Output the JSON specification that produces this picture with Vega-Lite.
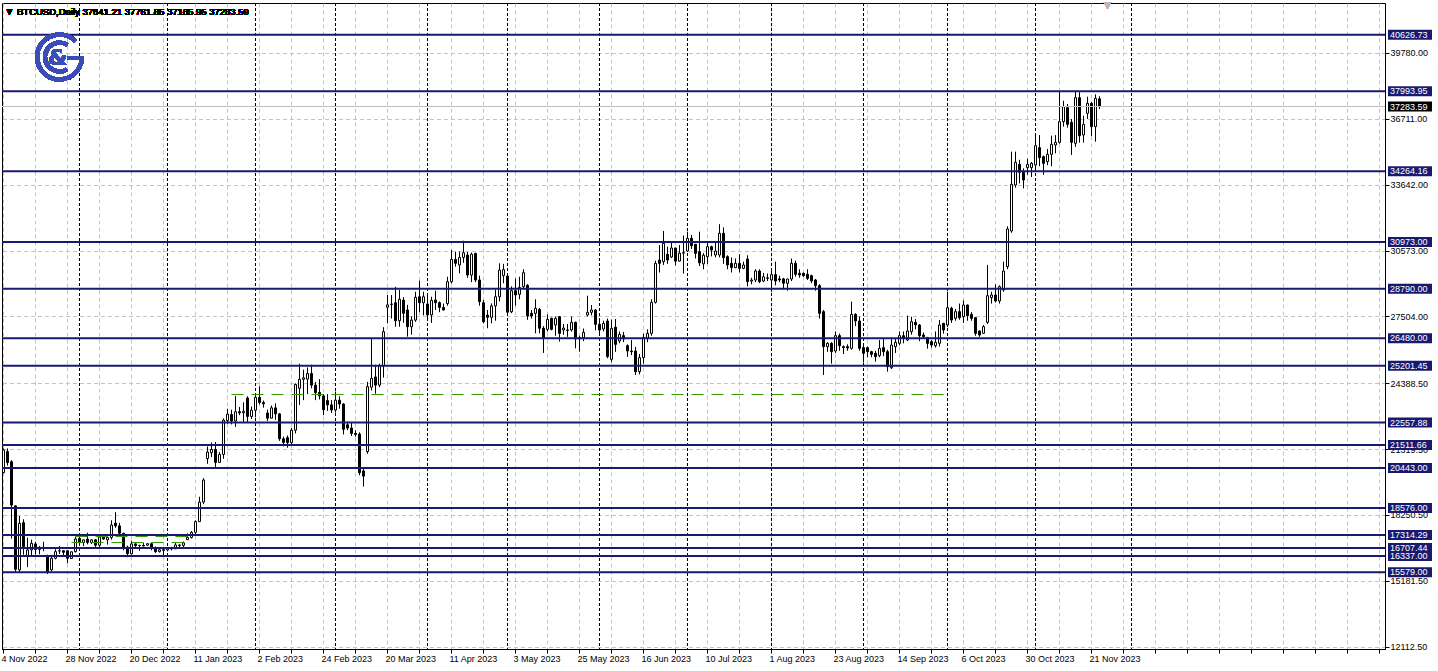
{
"$schema":"https://vega.github.io/schema/vega-lite/v6.json",
"width":1383,"height":646,
"autosize":{"type":"none"},
"padding":{"left":2,"top":3,"right":53,"bottom":22},
"background":"white",
"config":{"view":{"stroke":"black","strokeWidth":1},"font":"Liberation Sans"},
"data":{"values":[
{"d":"2022-11-04","o":20220,"h":21350,"l":20190,"c":21280},
{"d":"2022-11-07","o":21200,"h":21350,"l":20550,"c":20690},
{"d":"2022-11-08","o":20730,"h":20800,"l":17150,"c":18710},
{"d":"2022-11-09","o":18670,"h":18700,"l":15600,"c":15720},
{"d":"2022-11-10","o":15690,"h":18200,"l":15600,"c":17860},
{"d":"2022-11-11","o":17890,"h":18050,"l":16400,"c":16770},
{"d":"2022-11-14","o":16330,"h":17190,"l":15820,"c":16620},
{"d":"2022-11-15","o":16620,"h":17100,"l":16300,"c":16930},
{"d":"2022-11-16","o":16900,"h":17000,"l":16400,"c":16640},
{"d":"2022-11-17","o":16640,"h":16800,"l":16420,"c":16740},
{"d":"2022-11-18","o":16740,"h":17000,"l":16560,"c":16700},
{"d":"2022-11-21","o":16340,"h":16400,"l":15500,"c":15610},
{"d":"2022-11-22","o":15690,"h":16300,"l":15620,"c":16230},
{"d":"2022-11-23","o":16230,"h":16650,"l":16180,"c":16540},
{"d":"2022-11-24","o":16570,"h":16800,"l":16430,"c":16580},
{"d":"2022-11-25","o":16580,"h":16600,"l":16350,"c":16510},
{"d":"2022-11-28","o":16580,"h":16600,"l":16000,"c":16230},
{"d":"2022-11-29","o":16220,"h":16550,"l":16200,"c":16530},
{"d":"2022-11-30","o":16540,"h":17240,"l":16500,"c":17130},
{"d":"2022-12-01","o":17160,"h":17320,"l":16880,"c":16970},
{"d":"2022-12-02","o":16970,"h":17100,"l":16800,"c":17090},
{"d":"2022-12-05","o":17120,"h":17420,"l":16880,"c":16970},
{"d":"2022-12-06","o":16970,"h":17110,"l":16900,"c":17090},
{"d":"2022-12-07","o":17090,"h":17130,"l":16700,"c":16840},
{"d":"2022-12-08","o":16840,"h":17300,"l":16730,"c":17220},
{"d":"2022-12-09","o":17220,"h":17350,"l":17100,"c":17130},
{"d":"2022-12-12","o":17090,"h":17250,"l":16870,"c":17200},
{"d":"2022-12-13","o":17200,"h":18000,"l":17100,"c":17780},
{"d":"2022-12-14","o":17870,"h":18380,"l":17650,"c":17740},
{"d":"2022-12-15","o":17740,"h":17880,"l":17300,"c":17400},
{"d":"2022-12-16","o":17390,"h":17420,"l":16600,"c":16700},
{"d":"2022-12-19","o":16750,"h":16820,"l":16280,"c":16450},
{"d":"2022-12-20","o":16440,"h":17050,"l":16400,"c":16900},
{"d":"2022-12-21","o":16900,"h":16920,"l":16760,"c":16820},
{"d":"2022-12-22","o":16820,"h":16860,"l":16580,"c":16830},
{"d":"2022-12-23","o":16830,"h":16950,"l":16790,"c":16800},
{"d":"2022-12-26","o":16840,"h":16930,"l":16800,"c":16910},
{"d":"2022-12-27","o":16910,"h":16960,"l":16600,"c":16700},
{"d":"2022-12-28","o":16700,"h":16780,"l":16480,"c":16540},
{"d":"2022-12-29","o":16540,"h":16650,"l":16500,"c":16630},
{"d":"2022-12-30","o":16630,"h":16650,"l":16330,"c":16600},
{"d":"2023-01-02","o":16620,"h":16760,"l":16550,"c":16680},
{"d":"2023-01-03","o":16680,"h":16760,"l":16600,"c":16670},
{"d":"2023-01-04","o":16670,"h":16970,"l":16660,"c":16850},
{"d":"2023-01-05","o":16850,"h":16880,"l":16750,"c":16830},
{"d":"2023-01-06","o":16830,"h":17010,"l":16680,"c":16950},
{"d":"2023-01-09","o":17100,"h":17390,"l":17080,"c":17200},
{"d":"2023-01-10","o":17200,"h":17500,"l":17150,"c":17440},
{"d":"2023-01-11","o":17440,"h":18000,"l":17320,"c":17940},
{"d":"2023-01-12","o":17940,"h":19100,"l":17920,"c":18850},
{"d":"2023-01-13","o":18850,"h":19960,"l":18750,"c":19880},
{"d":"2023-01-16","o":20880,"h":21440,"l":20630,"c":21180},
{"d":"2023-01-17","o":21150,"h":21620,"l":20950,"c":21300},
{"d":"2023-01-18","o":21300,"h":21650,"l":20400,"c":20700},
{"d":"2023-01-19","o":20700,"h":21180,"l":20680,"c":21070},
{"d":"2023-01-20","o":21070,"h":22750,"l":20870,"c":22670},
{"d":"2023-01-23","o":22650,"h":23200,"l":22500,"c":22950},
{"d":"2023-01-24","o":22930,"h":23150,"l":22470,"c":22630},
{"d":"2023-01-25","o":22630,"h":23800,"l":22350,"c":23060},
{"d":"2023-01-26","o":23060,"h":23280,"l":22900,"c":23010},
{"d":"2023-01-27","o":23010,"h":23500,"l":22550,"c":23080},
{"d":"2023-01-30","o":23700,"h":23780,"l":22550,"c":22840},
{"d":"2023-01-31","o":22840,"h":23300,"l":22720,"c":23130},
{"d":"2023-02-01","o":23130,"h":23800,"l":22800,"c":23730},
{"d":"2023-02-02","o":23730,"h":24250,"l":23400,"c":23490},
{"d":"2023-02-03","o":23490,"h":23580,"l":23250,"c":23430},
{"d":"2023-02-06","o":23000,"h":23160,"l":22630,"c":22760},
{"d":"2023-02-07","o":22760,"h":23350,"l":22750,"c":23240},
{"d":"2023-02-08","o":23240,"h":23450,"l":22680,"c":22960},
{"d":"2023-02-09","o":22960,"h":22990,"l":21700,"c":21800},
{"d":"2023-02-10","o":21800,"h":21900,"l":21450,"c":21630},
{"d":"2023-02-13","o":21850,"h":21950,"l":21380,"c":21620},
{"d":"2023-02-14","o":21620,"h":22300,"l":21520,"c":22200},
{"d":"2023-02-15","o":22200,"h":24380,"l":22050,"c":24330},
{"d":"2023-02-16","o":24150,"h":25300,"l":23370,"c":24570},
{"d":"2023-02-17","o":24570,"h":25020,"l":23600,"c":24640},
{"d":"2023-02-20","o":24580,"h":25120,"l":23880,"c":24840},
{"d":"2023-02-21","o":24840,"h":25250,"l":24150,"c":24300},
{"d":"2023-02-22","o":24300,"h":24450,"l":23600,"c":23950},
{"d":"2023-02-23","o":23960,"h":24580,"l":23630,"c":23800},
{"d":"2023-02-24","o":23800,"h":23880,"l":22900,"c":23150},
{"d":"2023-02-27","o":23580,"h":23880,"l":23100,"c":23380},
{"d":"2023-02-28","o":23380,"h":23600,"l":23000,"c":23140},
{"d":"2023-03-01","o":23140,"h":24000,"l":23020,"c":23600},
{"d":"2023-03-02","o":23600,"h":23780,"l":23200,"c":23420},
{"d":"2023-03-03","o":23420,"h":23460,"l":22000,"c":22240},
{"d":"2023-03-06","o":22450,"h":22600,"l":22200,"c":22300},
{"d":"2023-03-07","o":22300,"h":22550,"l":21930,"c":22050},
{"d":"2023-03-08","o":22050,"h":22200,"l":21900,"c":22000},
{"d":"2023-03-09","o":22020,"h":22100,"l":20100,"c":20220},
{"d":"2023-03-10","o":20300,"h":20400,"l":19570,"c":20060},
{"d":"2023-03-13","o":21200,"h":24450,"l":21100,"c":24230},
{"d":"2023-03-14","o":24200,"h":26480,"l":24050,"c":24620},
{"d":"2023-03-15","o":24680,"h":25250,"l":23900,"c":24300},
{"d":"2023-03-16","o":24300,"h":25300,"l":24200,"c":25200},
{"d":"2023-03-17","o":25200,"h":27000,"l":24650,"c":26790},
{"d":"2023-03-20","o":27930,"h":28500,"l":27180,"c":28040},
{"d":"2023-03-21","o":28060,"h":28500,"l":27400,"c":28080},
{"d":"2023-03-22","o":28140,"h":28880,"l":27020,"c":27300},
{"d":"2023-03-23","o":27300,"h":28730,"l":27020,"c":28300},
{"d":"2023-03-24","o":28260,"h":28400,"l":27200,"c":27645},
{"d":"2023-03-27","o":27800,"h":28040,"l":26560,"c":27020},
{"d":"2023-03-28","o":27020,"h":27500,"l":26650,"c":27330},
{"d":"2023-03-29","o":27330,"h":28650,"l":27250,"c":28390},
{"d":"2023-03-30","o":28420,"h":29170,"l":27700,"c":28140},
{"d":"2023-03-31","o":28140,"h":28650,"l":27550,"c":28420},
{"d":"2023-04-03","o":28080,"h":28450,"l":27400,"c":27570},
{"d":"2023-04-04","o":27570,"h":28420,"l":27200,"c":28250},
{"d":"2023-04-05","o":28270,"h":28700,"l":27800,"c":28140},
{"d":"2023-04-06","o":28140,"h":28200,"l":27700,"c":27920},
{"d":"2023-04-07","o":27920,"h":28100,"l":27780,"c":27800},
{"d":"2023-04-10","o":28100,"h":29350,"l":28000,"c":29120},
{"d":"2023-04-11","o":29120,"h":30600,"l":29040,"c":30160},
{"d":"2023-04-12","o":30160,"h":30520,"l":29820,"c":29975},
{"d":"2023-04-13","o":29900,"h":30520,"l":29510,"c":30250},
{"d":"2023-04-14","o":30250,"h":31030,"l":30000,"c":30470},
{"d":"2023-04-17","o":30360,"h":30500,"l":29300,"c":29430},
{"d":"2023-04-18","o":29430,"h":30480,"l":29100,"c":30400},
{"d":"2023-04-19","o":30440,"h":30460,"l":29100,"c":29200},
{"d":"2023-04-20","o":29200,"h":29400,"l":28000,"c":28190},
{"d":"2023-04-21","o":28140,"h":28270,"l":27180,"c":27250},
{"d":"2023-04-24","o":27560,"h":27800,"l":26950,"c":27460},
{"d":"2023-04-25","o":27460,"h":28110,"l":27180,"c":27990},
{"d":"2023-04-26","o":27990,"h":28750,"l":27300,"c":28420},
{"d":"2023-04-27","o":28420,"h":29975,"l":28200,"c":29660},
{"d":"2023-04-28","o":29400,"h":29950,"l":29050,"c":29680},
{"d":"2023-05-01","o":29380,"h":29500,"l":27600,"c":27700},
{"d":"2023-05-02","o":27720,"h":28900,"l":27650,"c":28700},
{"d":"2023-05-03","o":28700,"h":29260,"l":28000,"c":28500},
{"d":"2023-05-04","o":28530,"h":29350,"l":28300,"c":28850},
{"d":"2023-05-05","o":28890,"h":29700,"l":28800,"c":29540},
{"d":"2023-05-08","o":28950,"h":29000,"l":27340,"c":27520},
{"d":"2023-05-09","o":27645,"h":27800,"l":27400,"c":27520},
{"d":"2023-05-10","o":27645,"h":28300,"l":26713,"c":27878},
{"d":"2023-05-11","o":27830,"h":27900,"l":26713,"c":26950},
{"d":"2023-05-12","o":26950,"h":27050,"l":25800,"c":26500},
{"d":"2023-05-15","o":26900,"h":27600,"l":26800,"c":27360},
{"d":"2023-05-16","o":27410,"h":27450,"l":26850,"c":26900},
{"d":"2023-05-17","o":27100,"h":27500,"l":26600,"c":27410},
{"d":"2023-05-18","o":27490,"h":27500,"l":26325,"c":26710},
{"d":"2023-05-19","o":26870,"h":27150,"l":26650,"c":26960},
{"d":"2023-05-22","o":26870,"h":27150,"l":26550,"c":26850},
{"d":"2023-05-23","o":26870,"h":27500,"l":26800,"c":27226},
{"d":"2023-05-24","o":27226,"h":27260,"l":26014,"c":26449},
{"d":"2023-05-25","o":26511,"h":26600,"l":25859,"c":26449},
{"d":"2023-05-26","o":26511,"h":26940,"l":26350,"c":26760},
{"d":"2023-05-29","o":27568,"h":28468,"l":27500,"c":27692},
{"d":"2023-05-30","o":27692,"h":28034,"l":27550,"c":27801},
{"d":"2023-05-31","o":27801,"h":27840,"l":26850,"c":27133},
{"d":"2023-06-01","o":27133,"h":27350,"l":26600,"c":26868},
{"d":"2023-06-02","o":26915,"h":27300,"l":26800,"c":27179},
{"d":"2023-06-05","o":27288,"h":27400,"l":25550,"c":25626},
{"d":"2023-06-06","o":25500,"h":27350,"l":25380,"c":26946},
{"d":"2023-06-07","o":27000,"h":27381,"l":25850,"c":26200},
{"d":"2023-06-08","o":26356,"h":26800,"l":26250,"c":26667},
{"d":"2023-06-09","o":26605,"h":26780,"l":26300,"c":26449},
{"d":"2023-06-12","o":26138,"h":26200,"l":25620,"c":25890},
{"d":"2023-06-13","o":25890,"h":26400,"l":25700,"c":25860},
{"d":"2023-06-14","o":25890,"h":26080,"l":24772,"c":24927},
{"d":"2023-06-15","o":24927,"h":25750,"l":24800,"c":25579},
{"d":"2023-06-16","o":25579,"h":26700,"l":25300,"c":26511},
{"d":"2023-06-19","o":26480,"h":26900,"l":26300,"c":26713},
{"d":"2023-06-20","o":26713,"h":28300,"l":26600,"c":28158},
{"d":"2023-06-21","o":28158,"h":30100,"l":28100,"c":29975},
{"d":"2023-06-22","o":30130,"h":30829,"l":29550,"c":29975},
{"d":"2023-06-23","o":30050,"h":31482,"l":29900,"c":30907},
{"d":"2023-06-26","o":30395,"h":30750,"l":29950,"c":30130},
{"d":"2023-06-27","o":30270,"h":30990,"l":30220,"c":30690},
{"d":"2023-06-28","o":30690,"h":30700,"l":29880,"c":30080},
{"d":"2023-06-29","o":30080,"h":30830,"l":30050,"c":30450},
{"d":"2023-06-30","o":30450,"h":31270,"l":29500,"c":30470},
{"d":"2023-07-03","o":30550,"h":31451,"l":30500,"c":31140},
{"d":"2023-07-04","o":31140,"h":31300,"l":30650,"c":30798},
{"d":"2023-07-05","o":30861,"h":30880,"l":30200,"c":30441},
{"d":"2023-07-06","o":30519,"h":31450,"l":29850,"c":30000},
{"d":"2023-07-07","o":29950,"h":30450,"l":29700,"c":30350},
{"d":"2023-07-10","o":30286,"h":31000,"l":29950,"c":30752},
{"d":"2023-07-11","o":30752,"h":30800,"l":30300,"c":30597},
{"d":"2023-07-12","o":30364,"h":30980,"l":30250,"c":30550},
{"d":"2023-07-13","o":30364,"h":31800,"l":30250,"c":31373},
{"d":"2023-07-14","o":31373,"h":31650,"l":29950,"c":30239},
{"d":"2023-07-17","o":30286,"h":30350,"l":29700,"c":29898},
{"d":"2023-07-18","o":29975,"h":30250,"l":29550,"c":29773},
{"d":"2023-07-19","o":29773,"h":30200,"l":29750,"c":29975},
{"d":"2023-07-20","o":29975,"h":30400,"l":29550,"c":29742},
{"d":"2023-07-21","o":29742,"h":30050,"l":29700,"c":29898},
{"d":"2023-07-24","o":30177,"h":30350,"l":28900,"c":29121},
{"d":"2023-07-25","o":29150,"h":29300,"l":29000,"c":29199},
{"d":"2023-07-26","o":29199,"h":29700,"l":29100,"c":29618},
{"d":"2023-07-27","o":29618,"h":29700,"l":29050,"c":29121},
{"d":"2023-07-28","o":29152,"h":29530,"l":29100,"c":29350},
{"d":"2023-07-31","o":29300,"h":29500,"l":29150,"c":29276},
{"d":"2023-08-01","o":29200,"h":29720,"l":28650,"c":29450},
{"d":"2023-08-02","o":29450,"h":30053,"l":28950,"c":29150},
{"d":"2023-08-03","o":29250,"h":29400,"l":29100,"c":29200},
{"d":"2023-08-04","o":29250,"h":29300,"l":28760,"c":29050},
{"d":"2023-08-07","o":29043,"h":29250,"l":28700,"c":29245},
{"d":"2023-08-08","o":29245,"h":30200,"l":29150,"c":29975},
{"d":"2023-08-09","o":29975,"h":30100,"l":29350,"c":29463},
{"d":"2023-08-10","o":29509,"h":29700,"l":29300,"c":29432},
{"d":"2023-08-11","o":29509,"h":29550,"l":29350,"c":29400},
{"d":"2023-08-14","o":29463,"h":29700,"l":29200,"c":29276},
{"d":"2023-08-15","o":29400,"h":29450,"l":29050,"c":29152},
{"d":"2023-08-16","o":29199,"h":29250,"l":28700,"c":28934},
{"d":"2023-08-17","o":28934,"h":29000,"l":27400,"c":27645},
{"d":"2023-08-18","o":27723,"h":27800,"l":24772,"c":26092},
{"d":"2023-08-21","o":26092,"h":26300,"l":25850,"c":26247},
{"d":"2023-08-22","o":26247,"h":26300,"l":25300,"c":25859},
{"d":"2023-08-23","o":25890,"h":26800,"l":25800,"c":26605},
{"d":"2023-08-24","o":26605,"h":26700,"l":25900,"c":26138},
{"d":"2023-08-25","o":26092,"h":26150,"l":25750,"c":26050},
{"d":"2023-08-28","o":26092,"h":26200,"l":25900,"c":26030},
{"d":"2023-08-29","o":26014,"h":28189,"l":25950,"c":27599},
{"d":"2023-08-30","o":27599,"h":27650,"l":27050,"c":27288},
{"d":"2023-08-31","o":27288,"h":27500,"l":25900,"c":26014},
{"d":"2023-09-01","o":26045,"h":26150,"l":25350,"c":25781},
{"d":"2023-09-04","o":26045,"h":26100,"l":25600,"c":25859},
{"d":"2023-09-05","o":25859,"h":25900,"l":25600,"c":25735},
{"d":"2023-09-06","o":25781,"h":25900,"l":25393,"c":25626},
{"d":"2023-09-07","o":25673,"h":26400,"l":25600,"c":26014},
{"d":"2023-09-08","o":26045,"h":26480,"l":25650,"c":25859},
{"d":"2023-09-11","o":25859,"h":25950,"l":24927,"c":25160},
{"d":"2023-09-12","o":25113,"h":26500,"l":25050,"c":26169},
{"d":"2023-09-13","o":26092,"h":26480,"l":25800,"c":26294},
{"d":"2023-09-14","o":26247,"h":26800,"l":26150,"c":26605},
{"d":"2023-09-15","o":26600,"h":26800,"l":26250,"c":26500},
{"d":"2023-09-18","o":26403,"h":27537,"l":26350,"c":26822},
{"d":"2023-09-19","o":26791,"h":27490,"l":26650,"c":27257},
{"d":"2023-09-20","o":27226,"h":27380,"l":26900,"c":27102},
{"d":"2023-09-21","o":27102,"h":27150,"l":26350,"c":26605},
{"d":"2023-09-22","o":26636,"h":26750,"l":26450,"c":26558},
{"d":"2023-09-25","o":26511,"h":26550,"l":26000,"c":26247},
{"d":"2023-09-26","o":26325,"h":26400,"l":26050,"c":26169},
{"d":"2023-09-27","o":26138,"h":26800,"l":26050,"c":26294},
{"d":"2023-09-28","o":26247,"h":27335,"l":26100,"c":27102},
{"d":"2023-09-29","o":27179,"h":27200,"l":26700,"c":26869},
{"d":"2023-10-02","o":27102,"h":28655,"l":27000,"c":27909},
{"d":"2023-10-03","o":27878,"h":27950,"l":27200,"c":27335},
{"d":"2023-10-04","o":27412,"h":27850,"l":27300,"c":27723},
{"d":"2023-10-05","o":27723,"h":28100,"l":27350,"c":27443},
{"d":"2023-10-06","o":27490,"h":28250,"l":27200,"c":28034},
{"d":"2023-10-09","o":28034,"h":28050,"l":27300,"c":27537},
{"d":"2023-10-10","o":27599,"h":27700,"l":27300,"c":27412},
{"d":"2023-10-11","o":27443,"h":27480,"l":26600,"c":26713},
{"d":"2023-10-12","o":26822,"h":26850,"l":26550,"c":26636},
{"d":"2023-10-13","o":26713,"h":27100,"l":26700,"c":27024},
{"d":"2023-10-16","o":27226,"h":29898,"l":27150,"c":28468},
{"d":"2023-10-17","o":28375,"h":28650,"l":28100,"c":28499},
{"d":"2023-10-18","o":28499,"h":28997,"l":28150,"c":28220},
{"d":"2023-10-19","o":28220,"h":28950,"l":28100,"c":28888},
{"d":"2023-10-20","o":28733,"h":30050,"l":28650,"c":29618},
{"d":"2023-10-23","o":29820,"h":31700,"l":29700,"c":31575},
{"d":"2023-10-24","o":31482,"h":35179,"l":31400,"c":33657},
{"d":"2023-10-25","o":33626,"h":35179,"l":33500,"c":34682},
{"d":"2023-10-26","o":34588,"h":34800,"l":33700,"c":34216},
{"d":"2023-10-27","o":34216,"h":34400,"l":33470,"c":33859},
{"d":"2023-10-30","o":34433,"h":34850,"l":34100,"c":34588},
{"d":"2023-10-31","o":34433,"h":34700,"l":34000,"c":34635},
{"d":"2023-11-01","o":34558,"h":35955,"l":34300,"c":35458},
{"d":"2023-11-02","o":35365,"h":35955,"l":34500,"c":34899},
{"d":"2023-11-03","o":34946,"h":35000,"l":34100,"c":34635},
{"d":"2023-11-06","o":34713,"h":35300,"l":34550,"c":35055},
{"d":"2023-11-07","o":35055,"h":35924,"l":34500,"c":35521},
{"d":"2023-11-08","o":35490,"h":35950,"l":35100,"c":35614},
{"d":"2023-11-09","o":35614,"h":38006,"l":35550,"c":36577},
{"d":"2023-11-10","o":36577,"h":37550,"l":36350,"c":37276},
{"d":"2023-11-13","o":37229,"h":37400,"l":36300,"c":36452},
{"d":"2023-11-14","o":36546,"h":36700,"l":35024,"c":35614},
{"d":"2023-11-15","o":35567,"h":38006,"l":35400,"c":37695},
{"d":"2023-11-16","o":37695,"h":37950,"l":35600,"c":35924},
{"d":"2023-11-17","o":35955,"h":36850,"l":35600,"c":36452},
{"d":"2023-11-20","o":36965,"h":37740,"l":36700,"c":37431},
{"d":"2023-11-21","o":37431,"h":37500,"l":35900,"c":36344},
{"d":"2023-11-22","o":36344,"h":37850,"l":35645,"c":37664},
{"d":"2023-11-23","o":37641.21,"h":37761.85,"l":37165.95,"c":37283.59}
]},
"layer":[
{"data":{"values":[{"d":"2022-12-01"},{"d":"2023-01-02"},{"d":"2023-02-01"},{"d":"2023-03-01"},{"d":"2023-04-03"},{"d":"2023-05-01"},{"d":"2023-06-01"},{"d":"2023-07-03"},{"d":"2023-08-01"},{"d":"2023-09-01"},{"d":"2023-10-02"},{"d":"2023-11-01"},{"d":"2023-12-01"}]},
 "mark":{"type":"rule","color":"black","strokeWidth":1,"strokeDash":[3,2]},
 "encoding":{"x":{"field":"d","type":"ordinal",
   "scale":{"type":"band","paddingInner":0,"paddingOuter":0,"range":[-0.5,1383.5],"domain":["2022-11-04","2022-11-07","2022-11-08","2022-11-09","2022-11-10","2022-11-11","2022-11-14","2022-11-15","2022-11-16","2022-11-17","2022-11-18","2022-11-21","2022-11-22","2022-11-23","2022-11-24","2022-11-25","2022-11-28","2022-11-29","2022-11-30","2022-12-01","2022-12-02","2022-12-05","2022-12-06","2022-12-07","2022-12-08","2022-12-09","2022-12-12","2022-12-13","2022-12-14","2022-12-15","2022-12-16","2022-12-19","2022-12-20","2022-12-21","2022-12-22","2022-12-23","2022-12-26","2022-12-27","2022-12-28","2022-12-29","2022-12-30","2023-01-02","2023-01-03","2023-01-04","2023-01-05","2023-01-06","2023-01-09","2023-01-10","2023-01-11","2023-01-12","2023-01-13","2023-01-16","2023-01-17","2023-01-18","2023-01-19","2023-01-20","2023-01-23","2023-01-24","2023-01-25","2023-01-26","2023-01-27","2023-01-30","2023-01-31","2023-02-01","2023-02-02","2023-02-03","2023-02-06","2023-02-07","2023-02-08","2023-02-09","2023-02-10","2023-02-13","2023-02-14","2023-02-15","2023-02-16","2023-02-17","2023-02-20","2023-02-21","2023-02-22","2023-02-23","2023-02-24","2023-02-27","2023-02-28","2023-03-01","2023-03-02","2023-03-03","2023-03-06","2023-03-07","2023-03-08","2023-03-09","2023-03-10","2023-03-13","2023-03-14","2023-03-15","2023-03-16","2023-03-17","2023-03-20","2023-03-21","2023-03-22","2023-03-23","2023-03-24","2023-03-27","2023-03-28","2023-03-29","2023-03-30","2023-03-31","2023-04-03","2023-04-04","2023-04-05","2023-04-06","2023-04-07","2023-04-10","2023-04-11","2023-04-12","2023-04-13","2023-04-14","2023-04-17","2023-04-18","2023-04-19","2023-04-20","2023-04-21","2023-04-24","2023-04-25","2023-04-26","2023-04-27","2023-04-28","2023-05-01","2023-05-02","2023-05-03","2023-05-04","2023-05-05","2023-05-08","2023-05-09","2023-05-10","2023-05-11","2023-05-12","2023-05-15","2023-05-16","2023-05-17","2023-05-18","2023-05-19","2023-05-22","2023-05-23","2023-05-24","2023-05-25","2023-05-26","2023-05-29","2023-05-30","2023-05-31","2023-06-01","2023-06-02","2023-06-05","2023-06-06","2023-06-07","2023-06-08","2023-06-09","2023-06-12","2023-06-13","2023-06-14","2023-06-15","2023-06-16","2023-06-19","2023-06-20","2023-06-21","2023-06-22","2023-06-23","2023-06-26","2023-06-27","2023-06-28","2023-06-29","2023-06-30","2023-07-03","2023-07-04","2023-07-05","2023-07-06","2023-07-07","2023-07-10","2023-07-11","2023-07-12","2023-07-13","2023-07-14","2023-07-17","2023-07-18","2023-07-19","2023-07-20","2023-07-21","2023-07-24","2023-07-25","2023-07-26","2023-07-27","2023-07-28","2023-07-31","2023-08-01","2023-08-02","2023-08-03","2023-08-04","2023-08-07","2023-08-08","2023-08-09","2023-08-10","2023-08-11","2023-08-14","2023-08-15","2023-08-16","2023-08-17","2023-08-18","2023-08-21","2023-08-22","2023-08-23","2023-08-24","2023-08-25","2023-08-28","2023-08-29","2023-08-30","2023-08-31","2023-09-01","2023-09-04","2023-09-05","2023-09-06","2023-09-07","2023-09-08","2023-09-11","2023-09-12","2023-09-13","2023-09-14","2023-09-15","2023-09-18","2023-09-19","2023-09-20","2023-09-21","2023-09-22","2023-09-25","2023-09-26","2023-09-27","2023-09-28","2023-09-29","2023-10-02","2023-10-03","2023-10-04","2023-10-05","2023-10-06","2023-10-09","2023-10-10","2023-10-11","2023-10-12","2023-10-13","2023-10-16","2023-10-17","2023-10-18","2023-10-19","2023-10-20","2023-10-23","2023-10-24","2023-10-25","2023-10-26","2023-10-27","2023-10-30","2023-10-31","2023-11-01","2023-11-02","2023-11-03","2023-11-06","2023-11-07","2023-11-08","2023-11-09","2023-11-10","2023-11-13","2023-11-14","2023-11-15","2023-11-16","2023-11-17","2023-11-20","2023-11-21","2023-11-22","2023-11-23","2023-11-24","2023-11-25","2023-11-26","2023-11-27","2023-11-28","2023-11-29","2023-11-30","2023-12-01","2023-12-02","2023-12-03","2023-12-04","2023-12-05","2023-12-06","2023-12-07","2023-12-08","2023-12-09","2023-12-10","2023-12-11","2023-12-12","2023-12-13","2023-12-14","2023-12-15","2023-12-16","2023-12-17","2023-12-18","2023-12-19","2023-12-20","2023-12-21","2023-12-22","2023-12-23","2023-12-24","2023-12-25","2023-12-26","2023-12-27","2023-12-28","2023-12-29","2023-12-30","2023-12-31","2024-01-01","2024-01-02","2024-01-03","2024-01-04","2024-01-05","2024-01-06","2024-01-07","2024-01-08","2024-01-09","2024-01-10","2024-01-11","2024-01-12","2024-01-13","2024-01-14","2024-01-15","2024-01-16","2024-01-17","2024-01-18","2024-01-19","2024-01-20","2024-01-21","2024-01-22","2024-01-23","2024-01-24","2024-01-25","2024-01-26","2024-01-27","2024-01-28","2024-01-29","2024-01-30","2024-01-31","2024-02-01","2024-02-02"]},
   "axis":{"title":null,"orient":"bottom","bandPosition":0.5,
     "values":["2022-11-04","2022-11-16","2022-11-28","2022-12-08","2022-12-20","2022-12-30","2023-01-11","2023-01-23","2023-02-02","2023-02-14","2023-02-24","2023-03-08","2023-03-20","2023-03-30","2023-04-11","2023-04-21","2023-05-03","2023-05-15","2023-05-25","2023-06-06","2023-06-16","2023-06-28","2023-07-10","2023-07-20","2023-08-01","2023-08-11","2023-08-23","2023-09-04","2023-09-14","2023-09-26","2023-10-06","2023-10-18","2023-10-30","2023-11-09","2023-11-21","2023-11-29","2023-12-07","2023-12-15","2023-12-23","2023-12-31","2024-01-08","2024-01-16","2024-01-24","2024-02-01"],
     "labelExpr":"indexof(['2022-11-04','2022-11-28','2022-12-20','2023-01-11','2023-02-02','2023-02-24','2023-03-20','2023-04-11','2023-05-03','2023-05-25','2023-06-16','2023-07-10','2023-08-01','2023-08-23','2023-09-14','2023-10-06','2023-10-30','2023-11-21'], datum.value) >= 0 ? utcFormat(toDate(datum.value), '%-d %b %Y') : ''",
     "grid":true,"gridColor":"#c4c4c4","gridDash":[4,3],"gridWidth":1,
     "domainColor":"black","tickColor":"black","tickSize":4,"labelAlign":"left","labelOffset":-2,"labelPadding":1,
     "labelFont":"Liberation Sans","labelFontSize":9,"labelColor":"black","labelOverlap":false,"labelBound":false,"labelFlush":false,"labelAngle":0}}}},
{"mark":{"type":"rule","color":"black","strokeWidth":1},
 "encoding":{"x":{"field":"d","type":"ordinal"},
   "y":{"field":"l","type":"quantitative","scale":{"domain":[12003.1,42106.7],"nice":false,"zero":false},
     "axis":{"title":null,"orient":"right","values":[12112.5,13647,15181.5,16716,18250.5,19785,21319.5,22854,24388.5,25923,27504,29038.5,30573,32107.5,33642,35176.5,36711,38245.5,39780,41314.5],
       "format":".2f","grid":true,"gridColor":"#c4c4c4","gridDash":[4,3],"gridWidth":1,"domainColor":"black","tickColor":"black","tickSize":4,
       "labelPadding":1,"labelFont":"Liberation Sans","labelFontSize":9,"labelColor":"black","labelOverlap":false,"labelBound":false,"labelFlush":false}},
   "y2":{"field":"h"}}},
{"mark":{"type":"bar","width":2,"stroke":"black","strokeWidth":1},
 "encoding":{"x":{"field":"d","type":"ordinal"},"y":{"field":"o","type":"quantitative"},"y2":{"field":"c"},
   "fill":{"condition":{"test":"datum.c >= datum.o","value":"white"},"value":"black"}}},
{"data":{"values":[{"p":40626.73},{"p":37993.95},{"p":34264.16},{"p":30973.00},{"p":28790.00},{"p":26480.00},{"p":25201.45},{"p":22557.88},{"p":21511.66},{"p":20443.00},{"p":18576.00},{"p":17314.29},{"p":16707.44},{"p":16337.00},{"p":15579.00}]},
 "layer":[
  {"mark":{"type":"rule","color":"#191970","strokeWidth":2},"encoding":{"y":{"field":"p","type":"quantitative"}}},
  {"mark":{"type":"rect","color":"#191970","xOffset":3,"x2Offset":47,"yOffset":-5,"y2Offset":5},
   "encoding":{"x":{"value":"width"},"x2":{"value":"width"},"y":{"field":"p","type":"quantitative"},"y2":{"field":"p"}}},
  {"mark":{"type":"text","color":"white","align":"left","baseline":"middle","dx":5,"font":"Liberation Sans","fontSize":9},
   "encoding":{"x":{"value":"width"},"y":{"field":"p","type":"quantitative"},"text":{"field":"p","type":"quantitative","format":".2f"}}}
 ]},
{"data":{"values":[{"a":"2023-01-24","b":"2023-10-02","p":23863},{"a":"2022-11-30","b":"2023-01-09","p":17246},{"a":"2022-11-29","b":"2023-01-10","p":16966}]},
 "mark":{"type":"rule","color":"#339900","strokeWidth":1,"strokeDash":[12,8]},
 "encoding":{"x":{"field":"a","type":"ordinal"},"x2":{"field":"b"},"y":{"field":"p","type":"quantitative"}}},
{"data":{"values":[{"p":37283.59}]},
 "layer":[
  {"mark":{"type":"rule","color":"#c0c0c0","strokeWidth":1},"encoding":{"y":{"field":"p","type":"quantitative"}}},
  {"mark":{"type":"rect","color":"black","xOffset":3,"x2Offset":47,"yOffset":-5,"y2Offset":5},
   "encoding":{"x":{"value":"width"},"x2":{"value":"width"},"y":{"field":"p","type":"quantitative"},"y2":{"field":"p"}}},
  {"mark":{"type":"text","color":"white","align":"left","baseline":"middle","dx":5,"font":"Liberation Sans","fontSize":9},
   "encoding":{"x":{"value":"width"},"y":{"field":"p","type":"quantitative"},"text":{"field":"p","type":"quantitative","format":".2f"}}}
 ]},
{"mark":{"type":"text","text":"BTCUSD,Daily  37641.21 37761.85 37165.95 37283.59","align":"left","baseline":"middle","dx":13.5,"font":"Liberation Sans","fontSize":9.5,"color":"black"},
 "encoding":{"x":{"datum":"2022-11-04","type":"ordinal"},"y":{"datum":41710,"type":"quantitative"}}},
{"mark":{"type":"text","text":"▼","align":"center","baseline":"middle","dx":6,"font":"DejaVu Sans","fontSize":7,"color":"black"},
 "encoding":{"x":{"datum":"2022-11-04","type":"ordinal"},"y":{"datum":41710,"type":"quantitative"}}},
{"mark":{"type":"text","text":"▼","align":"center","baseline":"middle","font":"DejaVu Sans","fontSize":9,"color":"#b8b8b8"},
 "encoding":{"x":{"datum":"2023-11-25","type":"ordinal"},"y":{"datum":42000,"type":"quantitative"}}},
{"mark":{"type":"arc","radius":24.5,"radius2":20.5,"theta":1.5708,"theta2":7.07,"color":"#3b4bb8"},
 "encoding":{"x":{"datum":"2022-11-24","type":"ordinal"},"y":{"datum":39590,"type":"quantitative"}}},
{"mark":{"type":"arc","radius":16.5,"radius2":12.5,"theta":2.6,"theta2":6.85,"color":"#3b4bb8"},
 "encoding":{"x":{"datum":"2022-11-24","type":"ordinal"},"y":{"datum":39590,"type":"quantitative"}}},
{"mark":{"type":"rule","color":"#3b4bb8","strokeWidth":3.5},
 "encoding":{"x":{"datum":"2022-11-28","type":"ordinal"},"x2":{"datum":"2022-12-02"},"y":{"datum":39540,"type":"quantitative"}}},
{"mark":{"type":"text","text":"&","align":"center","baseline":"middle","dx":-2,"dy":1,"font":"DejaVu Sans","fontSize":22,"fontWeight":"bold","color":"#3b4bb8"},
 "encoding":{"x":{"datum":"2022-11-24","type":"ordinal"},"y":{"datum":39590,"type":"quantitative"}}}
]
}
